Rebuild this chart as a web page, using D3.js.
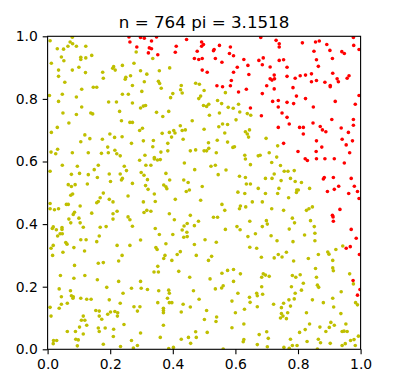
<!DOCTYPE html>
<html><head><meta charset="utf-8">
<script src="https://cdn.jsdelivr.net/npm/d3@7"></script>
<style>body{margin:0;background:#fff}svg{display:block}text{font-family:"DejaVu Sans",sans-serif}</style>
</head><body><div id="c"></div>
<script>
const titleN = [764];
const titlePi = [3.1518];
const tickValues = [0, 0.2, 0.4, 0.6, 0.8, 1.0];
const seriesNames = ["inside", "outside"];
// points inside the unit quarter circle (x, y)
const inside = [
[0.008,0.986],[0.079,0.997],[0.072,0.982],[0.080,0.976],[0.065,0.968],[0.092,0.968],[0.122,0.968],[0.031,0.960],[0.051,0.959],[0.283,0.950],[0.141,0.939],[0.044,0.934],[0.106,0.933],[0.106,0.926],[0.122,0.931],[0.052,0.922],[0.012,0.914],[0.276,0.914],[0.239,0.907],[0.211,0.903],[0.208,0.898],[0.100,0.901],[0.035,0.892],[0.079,0.892],[0.216,0.892],[0.176,0.885],[0.121,0.884],[0.297,0.890],[0.317,0.879],[0.035,0.872],[0.265,0.874],[0.250,0.869],[0.248,0.863],[0.178,0.866],[0.309,0.855],[0.055,0.853],[0.271,0.843],[0.146,0.837],[0.157,0.837],[0.109,0.831],[0.301,0.824],[0.006,0.811],[0.047,0.815],[0.239,0.815],[0.258,0.815],[0.092,0.806],[0.035,0.792],[0.195,0.790],[0.220,0.790],[0.271,0.787],[0.109,0.774],[0.306,0.777],[0.313,0.779],[0.297,0.771],[0.230,0.760],[0.049,0.755],[0.138,0.755],[0.144,0.752],[0.092,0.750],[0.236,0.730],[0.263,0.725],[0.271,0.725],[0.068,0.723],[0.031,0.709],[0.303,0.706],[0.294,0.699],[0.012,0.693],[0.199,0.688],[0.119,0.685],[0.214,0.677],[0.238,0.679],[0.135,0.673],[0.175,0.671],[0.306,0.666],
[0.336,0.929],[0.390,0.899],[0.357,0.890],[0.354,0.856],[0.358,0.849],[0.427,0.843],[0.473,0.850],[0.485,0.847],[0.363,0.834],[0.425,0.829],[0.500,0.827],[0.430,0.819],[0.400,0.817],[0.568,0.820],[0.489,0.809],[0.393,0.804],[0.483,0.801],[0.543,0.795],[0.556,0.785],[0.498,0.779],[0.515,0.783],[0.508,0.776],[0.610,0.783],[0.577,0.773],[0.593,0.770],[0.614,0.758],[0.348,0.757],[0.387,0.760],[0.638,0.753],[0.649,0.748],[0.368,0.744],[0.517,0.748],[0.549,0.755],[0.602,0.733],[0.462,0.730],[0.559,0.720],[0.575,0.718],[0.424,0.714],[0.547,0.711],[0.500,0.703],[0.403,0.699],[0.430,0.699],[0.440,0.701],[0.645,0.701],[0.632,0.695],[0.638,0.688],[0.642,0.678],[0.366,0.690],[0.389,0.693],[0.407,0.691],[0.566,0.691],[0.396,0.678],[0.433,0.671],[0.338,0.667],[0.542,0.668],
[0.698,0.674],
[0.106,0.663],[0.192,0.646],[0.268,0.658],[0.032,0.639],[0.011,0.630],[0.026,0.625],[0.079,0.628],[0.130,0.628],[0.172,0.626],[0.215,0.636],[0.221,0.625],[0.194,0.628],[0.232,0.618],[0.311,0.620],[0.294,0.604],[0.047,0.588],[0.095,0.585],[0.162,0.588],[0.314,0.588],[0.330,0.588],[0.245,0.585],[0.149,0.574],[0.252,0.571],[0.008,0.569],[0.076,0.559],[0.102,0.562],[0.130,0.558],[0.197,0.560],[0.232,0.560],[0.299,0.565],[0.308,0.556],[0.159,0.549],[0.239,0.546],[0.236,0.541],[0.319,0.542],[0.201,0.536],[0.271,0.530],[0.127,0.528],[0.066,0.526],[0.088,0.526],[0.076,0.520],[0.313,0.523],[0.321,0.511],[0.080,0.496],[0.074,0.492],[0.178,0.499],[0.257,0.490],[0.168,0.484],[0.197,0.479],[0.209,0.471],[0.162,0.472],[0.157,0.468],[0.306,0.471],[0.008,0.466],[0.060,0.463],[0.066,0.463],[0.104,0.458],[0.008,0.449],[0.022,0.446],[0.035,0.449],[0.222,0.441],[0.141,0.435],[0.209,0.433],[0.086,0.438],[0.082,0.431],[0.317,0.444],[0.308,0.437],[0.330,0.441],[0.068,0.416],[0.100,0.419],[0.209,0.416],[0.257,0.423],[0.263,0.414],[0.074,0.404],[0.104,0.404],[0.114,0.390],[0.168,0.390],[0.187,0.392],[0.271,0.393],[0.018,0.391],[0.015,0.386],[0.028,0.382],[0.046,0.389],[0.046,0.383],[0.040,0.369],[0.047,0.369],[0.032,0.362],[0.165,0.362],[0.106,0.350],[0.123,0.350],[0.157,0.344],[0.297,0.349],[0.058,0.341],[0.062,0.336],[0.018,0.332],[0.222,0.332],[0.263,0.332],
[0.575,0.662],[0.514,0.660],[0.384,0.658],[0.336,0.647],[0.473,0.637],[0.456,0.634],[0.500,0.634],[0.508,0.634],[0.515,0.642],[0.539,0.628],[0.592,0.645],[0.597,0.647],[0.384,0.634],[0.362,0.630],[0.341,0.613],[0.341,0.608],[0.351,0.605],[0.360,0.606],[0.630,0.620],[0.632,0.608],[0.437,0.595],[0.522,0.585],[0.536,0.588],[0.648,0.590],[0.570,0.573],[0.470,0.574],[0.378,0.562],[0.545,0.558],[0.613,0.553],[0.632,0.549],[0.390,0.541],[0.435,0.541],[0.449,0.533],[0.635,0.528],[0.648,0.528],[0.371,0.525],[0.378,0.519],[0.381,0.513],[0.494,0.520],[0.453,0.509],[0.443,0.504],[0.608,0.502],[0.630,0.498],[0.341,0.496],[0.408,0.479],[0.489,0.476],[0.654,0.471],[0.344,0.472],[0.557,0.463],[0.616,0.458],[0.613,0.449],[0.633,0.455],[0.566,0.444],[0.389,0.433],[0.456,0.428],[0.530,0.422],[0.543,0.422],[0.405,0.414],[0.482,0.409],[0.446,0.402],[0.469,0.395],[0.436,0.394],[0.646,0.409],[0.344,0.386],[0.430,0.381],[0.568,0.383],[0.605,0.392],[0.615,0.382],[0.445,0.374],[0.357,0.367],[0.400,0.367],[0.664,0.369],[0.435,0.358],[0.446,0.360],[0.640,0.360],[0.503,0.350],[0.378,0.337],[0.539,0.342],[0.469,0.335],
[0.735,0.650],[0.708,0.628],[0.673,0.618],[0.679,0.620],[0.732,0.614],[0.716,0.597],[0.744,0.587],[0.756,0.569],[0.768,0.569],[0.788,0.571],[0.724,0.560],[0.696,0.546],[0.717,0.546],[0.746,0.539],[0.776,0.546],[0.791,0.536],[0.811,0.533],[0.673,0.514],[0.739,0.514],[0.696,0.498],[0.735,0.498],[0.796,0.509],[0.801,0.509],[0.795,0.501],[0.837,0.514],[0.770,0.484],[0.686,0.471],[0.716,0.449],[0.754,0.444],[0.827,0.444],[0.835,0.449],[0.846,0.455],[0.782,0.419],[0.699,0.411],[0.789,0.404],[0.702,0.400],[0.840,0.411],[0.686,0.392],[0.852,0.392],[0.772,0.384],[0.854,0.371],[0.714,0.363],[0.821,0.365],[0.733,0.347],[0.784,0.344],[0.854,0.347],[0.943,0.330],
[0.011,0.323],[0.084,0.325],[0.118,0.314],[0.049,0.310],[0.016,0.300],[0.238,0.300],[0.227,0.282],[0.162,0.275],[0.178,0.277],[0.086,0.268],[0.041,0.236],[0.119,0.236],[0.084,0.227],[0.159,0.222],[0.227,0.217],[0.297,0.217],[0.037,0.193],[0.073,0.187],[0.189,0.198],[0.268,0.195],[0.299,0.195],[0.319,0.191],[0.241,0.179],[0.044,0.168],[0.076,0.171],[0.082,0.168],[0.081,0.163],[0.106,0.163],[0.125,0.160],[0.139,0.160],[0.197,0.158],[0.063,0.147],[0.044,0.144],[0.232,0.147],[0.276,0.136],[0.295,0.136],[0.008,0.134],[0.037,0.131],[0.154,0.124],[0.165,0.122],[0.192,0.112],[0.201,0.119],[0.215,0.121],[0.224,0.117],[0.223,0.106],[0.287,0.122],[0.011,0.106],[0.114,0.106],[0.165,0.106],[0.108,0.093],[0.119,0.093],[0.173,0.096],[0.125,0.077],[0.244,0.079],[0.102,0.071],[0.162,0.068],[0.184,0.068],[0.211,0.064],[0.165,0.057],[0.063,0.057],[0.089,0.057],[0.114,0.049],[0.297,0.052],[0.210,0.041],[0.090,0.032],[0.098,0.030],[0.268,0.028],[0.019,0.028],[0.029,0.028],[0.018,0.018],[0.178,0.016],[0.095,0.011],[0.233,0.009],[0.287,0.012],[0.274,0.004],
[0.346,0.325],[0.350,0.319],[0.646,0.326],[0.668,0.323],[0.424,0.312],[0.414,0.303],[0.375,0.300],[0.475,0.300],[0.524,0.297],[0.371,0.290],[0.397,0.284],[0.514,0.284],[0.352,0.265],[0.340,0.247],[0.354,0.247],[0.419,0.249],[0.557,0.243],[0.575,0.252],[0.594,0.255],[0.616,0.241],[0.454,0.230],[0.519,0.225],[0.594,0.217],[0.561,0.203],[0.556,0.196],[0.536,0.193],[0.466,0.187],[0.355,0.187],[0.387,0.189],[0.389,0.179],[0.608,0.179],[0.668,0.179],[0.645,0.166],[0.383,0.163],[0.484,0.160],[0.589,0.154],[0.352,0.149],[0.389,0.149],[0.397,0.149],[0.647,0.150],[0.433,0.144],[0.456,0.135],[0.629,0.128],[0.370,0.131],[0.370,0.124],[0.370,0.117],[0.508,0.124],[0.600,0.117],[0.427,0.119],[0.540,0.103],[0.538,0.089],[0.501,0.095],[0.627,0.081],[0.370,0.077],[0.589,0.069],[0.510,0.054],[0.473,0.056],[0.360,0.038],[0.450,0.038],[0.475,0.038],[0.427,0.032],[0.627,0.031],[0.625,0.024],[0.457,0.019],[0.402,0.006],[0.387,0.002],[0.561,0.001],
[0.683,0.294],[0.724,0.292],[0.737,0.303],[0.749,0.295],[0.763,0.310],[0.786,0.282],[0.833,0.290],[0.865,0.303],[0.895,0.311],[0.899,0.304],[0.921,0.319],[0.911,0.284],[0.856,0.258],[0.911,0.260],[0.913,0.251],[0.965,0.241],[0.684,0.230],[0.689,0.241],[0.696,0.237],[0.708,0.233],[0.782,0.236],[0.793,0.230],[0.807,0.238],[0.859,0.230],[0.977,0.209],[0.817,0.211],[0.779,0.200],[0.862,0.205],[0.866,0.198],[0.684,0.200],[0.811,0.189],[0.938,0.184],[0.670,0.171],[0.687,0.176],[0.791,0.179],[0.771,0.158],[0.788,0.161],[0.846,0.158],[0.911,0.163],[0.881,0.149],[0.984,0.149],[0.990,0.142],[0.670,0.136],[0.722,0.144],[0.754,0.147],[0.747,0.133],[0.776,0.138],[0.767,0.117],[0.827,0.117],[0.937,0.114],[0.747,0.114],[0.744,0.100],[0.752,0.106],[0.763,0.098],[0.914,0.135],[0.837,0.081],[0.905,0.086],[0.916,0.077],[0.900,0.070],[0.870,0.071],[0.889,0.057],[0.953,0.081],[0.941,0.057],[0.947,0.058],[0.957,0.057],[0.823,0.063],[0.805,0.054],[0.700,0.056],[0.676,0.047],[0.705,0.035],[0.776,0.032],[0.865,0.032],[0.872,0.021],[0.829,0.025],[0.903,0.019],[0.968,0.028],[0.979,0.031],[0.993,0.042],[0.670,0.015],[0.951,0.018],[0.702,0.008],[0.755,0.006],[0.772,0.003],[0.782,0.012],[0.797,0.012],[0.941,0.012],[0.983,0.012],[0.862,0.001]
];
// points outside the unit quarter circle (x, y)
const outside = [
[0.260,0.998],[0.297,0.996],[0.309,0.994],[0.332,0.985],[0.263,0.982],[0.285,0.966],[0.325,0.963],[0.332,0.960],[0.322,0.947],
[0.348,0.998],[0.444,0.990],[0.492,0.982],[0.498,0.974],[0.492,0.968],[0.411,0.968],[0.549,0.971],[0.584,0.966],[0.532,0.958],[0.530,0.954],[0.478,0.952],[0.408,0.949],[0.352,0.941],[0.581,0.945],[0.594,0.938],[0.469,0.929],[0.483,0.926],[0.494,0.929],[0.536,0.929],[0.627,0.926],[0.557,0.917],[0.640,0.907],[0.606,0.901],[0.494,0.892],[0.510,0.885],[0.594,0.885],[0.643,0.878],[0.587,0.859],[0.541,0.842],[0.559,0.839],[0.584,0.842],[0.635,0.831],[0.610,0.822],[0.648,0.771],
[0.681,0.996],[0.730,0.987],[0.740,0.976],[0.740,0.966],[0.814,0.979],[0.856,0.982],[0.868,0.985],[0.892,0.974],[0.977,0.996],[0.978,0.971],[0.995,0.958],[0.851,0.952],[0.902,0.955],[0.940,0.951],[0.948,0.945],[0.689,0.931],[0.675,0.923],[0.686,0.909],[0.740,0.923],[0.754,0.925],[0.859,0.925],[0.910,0.929],[0.711,0.902],[0.765,0.901],[0.865,0.904],[0.724,0.876],[0.711,0.864],[0.717,0.860],[0.725,0.864],[0.765,0.872],[0.791,0.866],[0.807,0.874],[0.824,0.876],[0.843,0.880],[0.911,0.882],[0.963,0.874],[0.957,0.866],[0.925,0.864],[0.929,0.855],[0.859,0.859],[0.843,0.855],[0.886,0.853],[0.903,0.843],[0.903,0.839],[0.700,0.842],[0.784,0.836],[0.724,0.832],[0.686,0.817],[0.795,0.809],[0.824,0.801],[0.995,0.811],[0.719,0.792],[0.737,0.795],[0.765,0.789],[0.786,0.785],[0.737,0.774],[0.919,0.792],[0.983,0.783],[0.849,0.774],[0.749,0.755],[0.683,0.746],[0.765,0.741],[0.908,0.734],[0.977,0.734],[0.772,0.720],[0.848,0.723],[0.871,0.712],[0.737,0.709],[0.805,0.709],[0.817,0.709],[0.938,0.707],[0.878,0.701],[0.889,0.695],[0.977,0.716],[0.961,0.693],[0.817,0.688],[0.941,0.671],[0.859,0.666],[0.974,0.666],
[0.754,0.658],[0.954,0.653],[0.876,0.646],[0.800,0.632],[0.858,0.632],[0.965,0.628],[0.823,0.609],[0.830,0.603],[0.859,0.609],[0.886,0.609],[0.916,0.609],[0.948,0.595],[0.884,0.549],[0.881,0.544],[0.913,0.549],[0.970,0.546],[0.930,0.521],[0.980,0.521],[0.916,0.511],[0.894,0.504],[0.962,0.498],[0.990,0.504],[0.995,0.482],[0.934,0.447],[0.910,0.428],[0.912,0.423],[0.913,0.409],[0.970,0.383],[0.986,0.355],
[0.967,0.328],[0.954,0.323],[0.996,0.303],[0.976,0.220],[0.990,0.173],[0.998,0.191]
];

const W = 400, H = 382;
const mLeft = 47.6, mTop = 36.3, size = 313;
const svg = d3.select("#c").append("svg").attr("width", W).attr("height", H);
const x = d3.scaleLinear().domain([0, 1]).range([mLeft, mLeft + size]);
const y = d3.scaleLinear().domain([0, 1]).range([mTop + size, mTop]);
const color = d3.scaleOrdinal().domain(seriesNames).range(["#bfbf00", "#ff0000"]);

svg.append("clipPath").attr("id", "clip").append("rect")
  .attr("x", mLeft).attr("y", mTop).attr("width", size).attr("height", size);

const series = [{name: "inside", pts: inside}, {name: "outside", pts: outside}];
const g = svg.append("g").attr("clip-path", "url(#clip)");
series.forEach(s => {
  g.append("g").selectAll("circle").data(s.pts).join("circle")
    .attr("cx", d => x(d[0])).attr("cy", d => y(d[1]))
    .attr("r", 1.8).attr("fill", color(s.name));
});

const fmt = d3.format(".1f");
const xa = svg.append("g").attr("transform", `translate(0,${mTop + size})`)
  .call(d3.axisBottom(x).tickValues(tickValues).tickFormat(fmt).tickSize(4.9).tickPadding(4.9).tickSizeOuter(0));
const ya = svg.append("g").attr("transform", `translate(${mLeft},0)`)
  .call(d3.axisLeft(y).tickValues(tickValues).tickFormat(fmt).tickSize(4.9).tickPadding(4.9).tickSizeOuter(0));
[xa, ya].forEach(a => {
  a.select(".domain").remove();
  a.selectAll("line").attr("stroke", "#000").attr("stroke-width", 1.1);
  a.selectAll("text").attr("fill", "#000").style("font-size", "13.9px").style("font-family", "DejaVu Sans");
});

svg.append("rect").attr("x", mLeft).attr("y", mTop).attr("width", size).attr("height", size)
  .attr("fill", "none").attr("stroke", "#000").attr("stroke-width", 1.1);

svg.append("text").attr("x", mLeft + size / 2).attr("y", mTop - 8.3)
  .attr("text-anchor", "middle").style("font-size", "16.7px").style("font-family", "DejaVu Sans")
  .text(`n = ${titleN[0]} pi = ${titlePi[0]}`);
</script></body></html>
